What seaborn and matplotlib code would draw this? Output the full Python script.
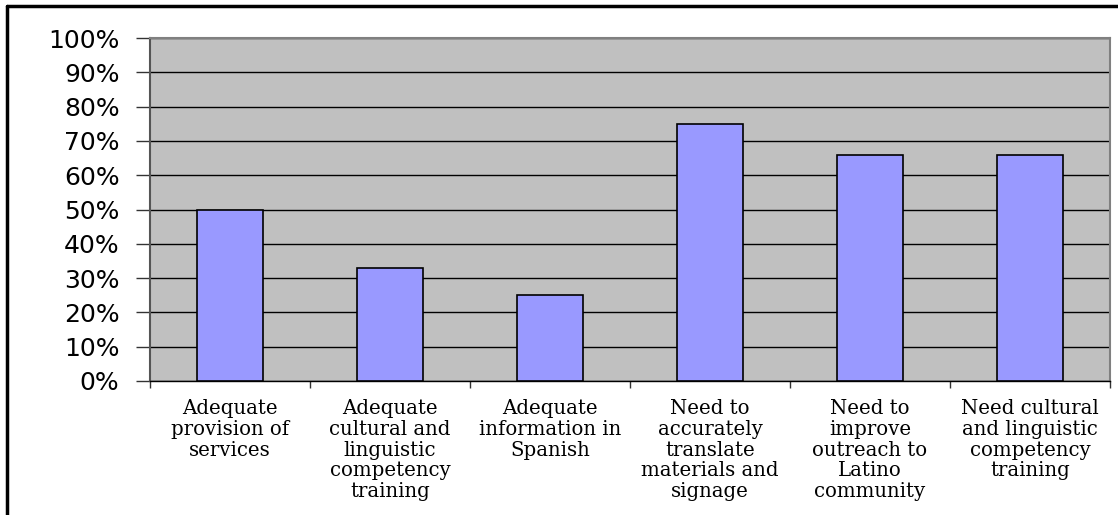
import matplotlib
matplotlib.use("Agg")
from matplotlib import pyplot as plt
from matplotlib.lines import Line2D
from matplotlib.ticker import FuncFormatter, FixedLocator
import seaborn as sns
import pandas as pd

kategorie = [
    "Adequate\nprovision of\nservices",
    "Adequate\ncultural and\nlinguistic\ncompetency\ntraining",
    "Adequate\ninformation in\nSpanish",
    "Need to\naccurately\ntranslate\nmaterials and\nsignage",
    "Need to\nimprove\noutreach to\nLatino\ncommunity",
    "Need cultural\nand linguistic\ncompetency\ntraining",
]
wartosci = [50, 33, 25, 75, 66, 66]
y_ticki = [0, 10, 20, 30, 40, 50, 60, 70, 80, 90, 100]

df = pd.DataFrame({"kat": kategorie, "val": wartosci})

sns.set_style("white")
fig = plt.figure(figsize=(11.18, 5.15), dpi=100)
ax = fig.add_axes([150/1118, 1 - 381/515, 960/1118, 343/515])
ax.set_facecolor("#C0C0C0")

sns.barplot(data=df, x="kat", y="val", color="#9999FF", width=0.41,
            edgecolor="black", linewidth=1.2, saturation=1, ax=ax, zorder=3)

ax.set_ylim(0, 100)
ax.set_xlim(-0.5, len(kategorie) - 0.5)
ax.yaxis.set_major_locator(FixedLocator(y_ticki))
ax.yaxis.set_major_formatter(FuncFormatter(lambda v, p: f"{int(v)}%"))
ax.grid(axis="y", color="black", linewidth=1.0, zorder=1)
ax.set_axisbelow(True)
for b in ax.patches:
    b.set_zorder(3)

ax.tick_params(axis="y", direction="out", length=10, width=1, color="#333333",
               left=True, pad=12, labelsize=18, labelfontfamily="DejaVu Sans",
               labelcolor="black")

# etykiety osi x i ticki na granicach kategorii
ax.set_xticks(range(len(kategorie)))
ax.set_xticklabels(kategorie, family="DejaVu Serif", fontsize=14.2,
                   linespacing=1.12, color="black")
ax.tick_params(axis="x", which="major", length=0, pad=13)
ax.set_xticks([i - 0.5 for i in range(len(kategorie) + 1)], minor=True)
ax.tick_params(axis="x", which="minor", direction="out", length=5, width=1,
               color="#333333", bottom=True)
ax.set_xlabel("")
ax.set_ylabel("")

for s in ["top", "right"]:
    ax.spines[s].set_color("#808080")
    ax.spines[s].set_linewidth(1.5)
ax.spines["left"].set_color("#555555")
ax.spines["left"].set_linewidth(1.5)
ax.spines["bottom"].set_color("black")
ax.spines["bottom"].set_linewidth(1)

# ramka obrazka
fig.add_artist(Line2D([7/1118, 7/1118], [0, 1 - 6/515], color="black", linewidth=2.5))
fig.add_artist(Line2D([7/1118, 1], [1 - 6/515, 1 - 6/515], color="black", linewidth=2.5))

fig.savefig("out.png", dpi=100)
